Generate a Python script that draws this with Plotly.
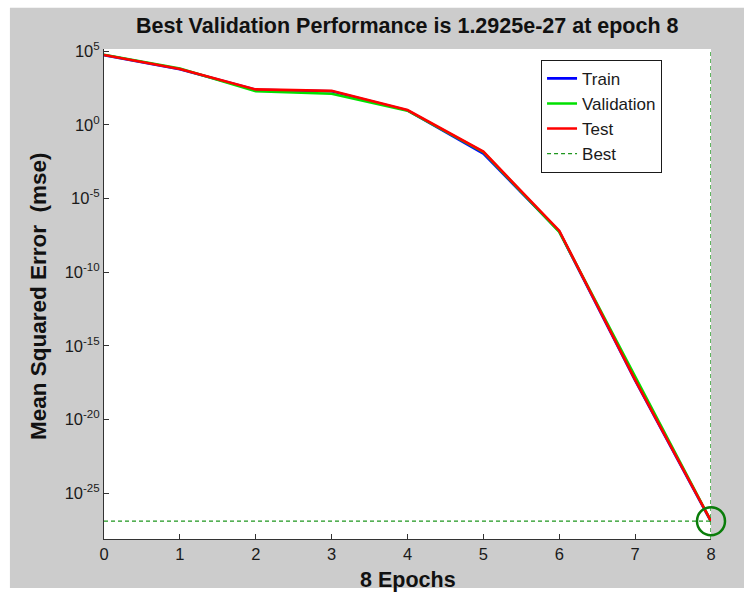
import plotly.graph_objects as go

# ---- data ----
epochs = [0, 1, 2, 3, 4, 5, 6, 7, 8]
train_mse = [5.3e4, 5.8e3, 2.4e2, 1.9e2, 9.5e0, 1.1e-2, 5.8e-8, 4.5e-18, 1.2e-27]
valid_mse = [5.6e4, 6.5e3, 1.9e2, 1.26e2, 9.0e0, 1.4e-2, 5.5e-8, 8.0e-18, 1.2925e-27]
test_mse = [5.4e4, 6.0e3, 2.5e2, 2.0e2, 1.0e1, 1.5e-2, 6.5e-8, 5.0e-18, 1.3e-27]
best_epoch = 8
best_value = 1.2925e-27

y_log_range = [-28.1, 5.14]
y_tick_exps = [5, 0, -5, -10, -15, -20, -25]
y_tick_vals = [1e5, 1e0, 1e-5, 1e-10, 1e-15, 1e-20, 1e-25]
x_ticks = [0, 1, 2, 3, 4, 5, 6, 7, 8]

FONT = "Liberation Sans, Arial, sans-serif"
BEST_GREEN = "#1e961e"

fig = go.Figure()

fig.add_trace(go.Scatter(x=epochs, y=train_mse, mode="lines", name="Train",
                         line=dict(color="#0000ff", width=2.6)))
fig.add_trace(go.Scatter(x=epochs, y=valid_mse, mode="lines", name="Validation",
                         line=dict(color="#00e000", width=2.6)))
fig.add_trace(go.Scatter(x=epochs, y=test_mse, mode="lines", name="Test",
                         line=dict(color="#ff0000", width=2.6)))

ymin = 10 ** y_log_range[0]
ymax = 10 ** y_log_range[1]
fig.add_trace(go.Scatter(
    x=[epochs[0], best_epoch, None, best_epoch, best_epoch],
    y=[best_value, best_value, None, ymin, ymax],
    mode="lines", name="Best",
    line=dict(color=BEST_GREEN, width=1.4, dash="4px,3px")))
fig.add_trace(go.Scatter(
    x=[best_epoch], y=[best_value], mode="markers", showlegend=False,
    marker=dict(symbol="circle-open", size=28, color="#0a7d0a",
                line=dict(width=2.5, color="#0a7d0a")),
    cliponaxis=False))

# background: grey figure area with white plot area
fig.add_shape(type="rect", xref="paper", yref="paper",
              x0=-0.155, x1=1.06, y0=-0.1, y1=1.084,
              fillcolor="#cccccc", line=dict(width=0), layer="below")
fig.add_shape(type="rect", xref="paper", yref="paper",
              x0=0, x1=1, y0=0, y1=1,
              fillcolor="white", line=dict(width=0), layer="below")

fig.update_layout(
    width=744, height=592,
    margin=dict(l=104, r=33, t=49, b=53),
    paper_bgcolor="white", plot_bgcolor="white",
    font=dict(family=FONT, color="#1a1a1a"),
    showlegend=True,
    legend=dict(x=0.72, y=0.978, xanchor="left", yanchor="top",
                bgcolor="white", bordercolor="#1a1a1a", borderwidth=1,
                font=dict(size=17, family=FONT, color="#1a1a1a"),
                tracegroupgap=0),
    xaxis=dict(range=[0, 8], tickvals=x_ticks, ticks="inside", ticklen=5,
               tickcolor="#333333", showline=True, linecolor="#333333",
               linewidth=1, showgrid=False, zeroline=False,
               tickfont=dict(size=16.5, family=FONT, color="#1a1a1a")),
    yaxis=dict(type="log", range=y_log_range, tickvals=y_tick_vals,
               ticktext=["10<sup>%d</sup>" % e for e in y_tick_exps],
               ticks="inside", ticklen=5, tickcolor="#333333",
               showline=True, linecolor="#333333", linewidth=1,
               showgrid=False, zeroline=False,
               tickfont=dict(size=16.5, family=FONT, color="#1a1a1a")),
)

fig.add_annotation(text="<b>Best Validation Performance is 1.2925e-27 at epoch 8</b>",
                   xref="paper", yref="paper", x=0.5, y=1.0, yshift=23,
                   showarrow=False, xanchor="center", yanchor="middle",
                   font=dict(size=21.5, family=FONT, color="#111111"))
fig.add_annotation(text="<b>8 Epochs</b>", xref="paper", yref="paper",
                   x=0.5, y=0, yshift=-41, showarrow=False,
                   xanchor="center", yanchor="middle",
                   font=dict(size=21.5, family=FONT, color="#111111"))
fig.add_annotation(text="<b>Mean Squared Error \u00a0(mse)</b>", xref="paper", yref="paper",
                   x=0, xshift=-66, y=0.5, yshift=-2, showarrow=False, textangle=-90,
                   xanchor="center", yanchor="middle",
                   font=dict(size=22.5, family=FONT, color="#111111"))

fig.write_html("out.html")
